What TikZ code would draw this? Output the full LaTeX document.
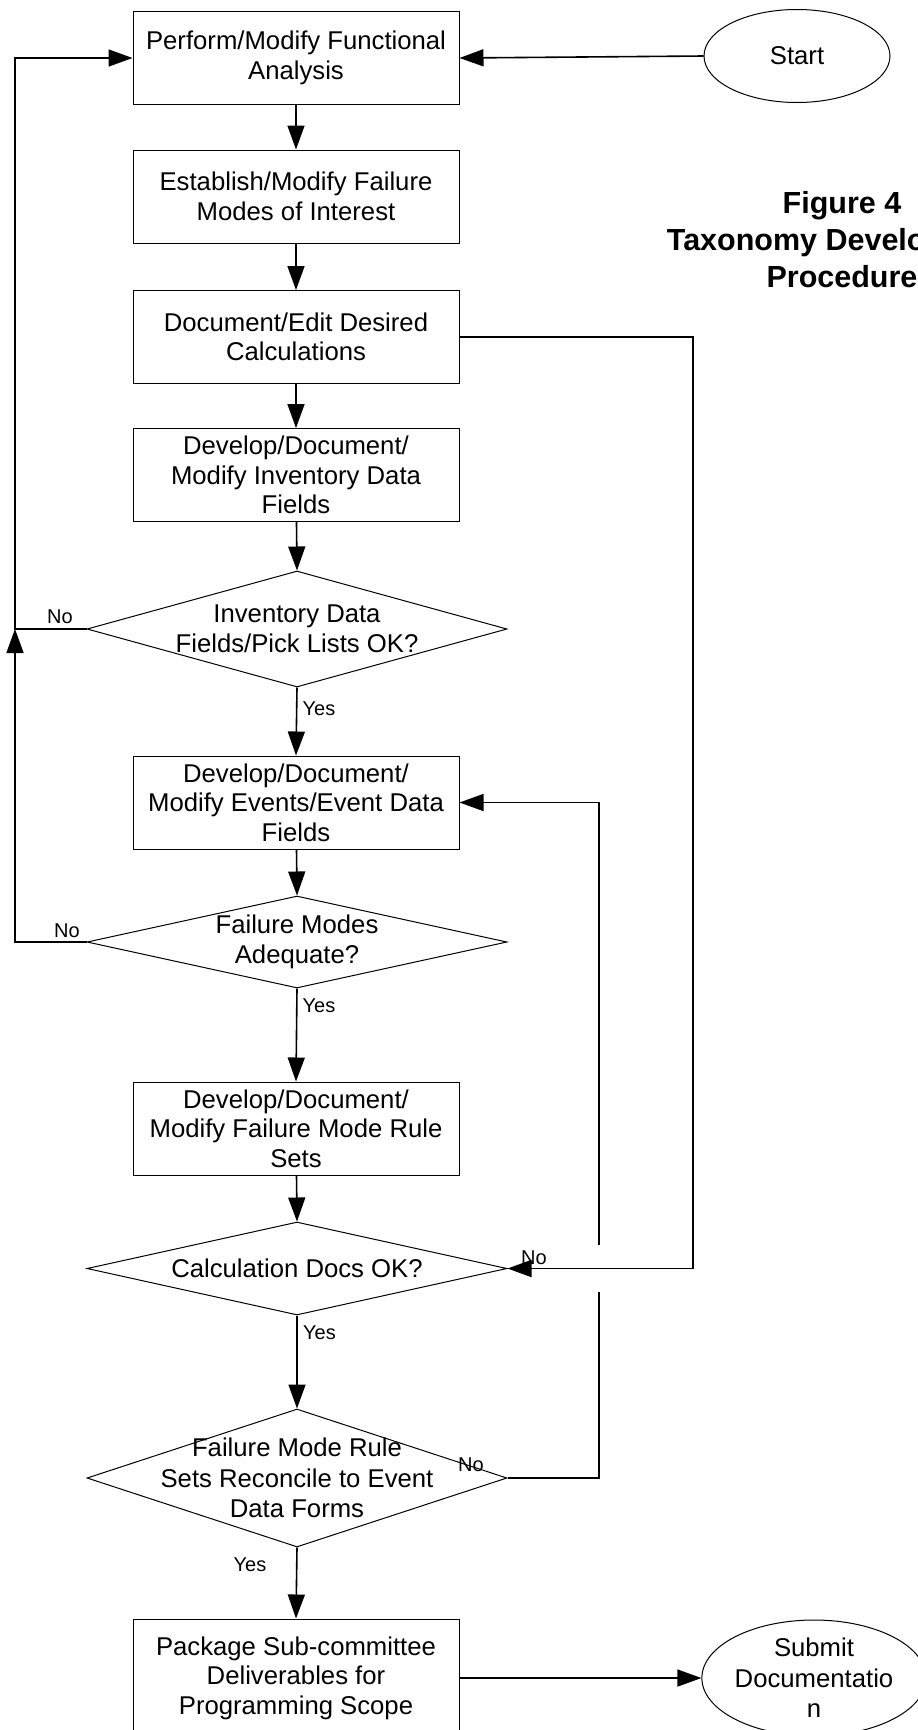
\documentclass[tikz,border=0pt]{standalone}
\usepackage{fontspec}
\setmainfont{Liberation Sans}
\usetikzlibrary{arrows.meta,shapes.geometric}
\tikzset{
  boxnode/.style={draw, line width=1pt, rectangle, minimum width=326pt, minimum height=93pt, inner sep=0pt, align=center, font=\fontsize{25.7}{29.5}\selectfont},
  decnode/.style={draw, line width=1pt, diamond, minimum width=420pt, inner sep=0pt},
  dectext/.style={align=center, font=\fontsize{25.7}{30.5}\selectfont},
  termnode/.style={draw, line width=1pt, ellipse, inner sep=0pt, align=center, font=\fontsize{25.7}{30.5}\selectfont},
  conn/.style={line width=1.6pt},
  arr/.style={conn, -{Triangle[length=24pt,width=17pt]}},
  lbl/.style={font=\fontsize{20}{24}\selectfont, inner sep=0pt},
  titletext/.style={align=center, font=\fontsize{30.5}{37}\selectfont\bfseries}
}
\begin{document}
\begin{tikzpicture}[x=1pt,y=-1pt]
\useasboundingbox (0,0) rectangle (918,1730);
\clip (0,0) rectangle (918,1730);
\fill[white] (0,0) rectangle (918,1730);

% process boxes
\node[boxnode] (b1) at (296,58) {Perform/Modify Functional\\Analysis};
\node[boxnode] (b2) at (296,196.5) {Establish/Modify Failure\\Modes of Interest};
\node[boxnode] (b3) at (296,337) {Document/Edit Desired\\Calculations};
\node[boxnode] (b4) at (296,475) {Develop/Document/\\Modify Inventory Data\\Fields};
\node[boxnode] (b5) at (296,802.5) {Develop/Document/\\Modify Events/Event Data\\Fields};
\node[boxnode] (b6) at (296,1128.5) {Develop/Document/\\Modify Failure Mode Rule\\Sets};
\node[boxnode, minimum height=118pt] (b7) at (296,1678) {Package Sub-committee\\Deliverables for\\Programming Scope};

% decisions
\node[decnode, minimum height=116pt, label={[dectext]center:Inventory Data\\Fields/Pick Lists OK?}] (d1) at (297,629) {};
\node[decnode, minimum height=92pt, label={[dectext]center:Failure Modes\\Adequate?}] (d2) at (297,942) {};
\node[decnode, minimum height=93pt, label={[dectext]center:Calculation Docs OK?}] (d3) at (297,1268.5) {};
\node[decnode, minimum height=138pt, label={[dectext]center:Failure Mode Rule\\Sets Reconcile to Event\\Data Forms}] (d4) at (297,1478) {};

% terminals
\node[termnode, minimum width=186pt, minimum height=93pt] (start) at (797,56) {Start};
\node[termnode, minimum width=220pt, minimum height=116pt] (submit) at (814,1678) {Submit\\Documentatio\\n};

% title
\node[titletext] (title) at (842,240) {Figure 4\\Taxonomy Development\\Procedure};

% helper coordinates
\coordinate (L1) at (15,629);
\coordinate (R1) at (693,1268.5);
\coordinate (G1) at (599,1292);
\coordinate (G2) at (599,1245);

% main flow
\draw[arr] (start.west) -- (b1.east);
\draw[arr] (b1) -- (b2);
\draw[arr] (b2) -- (b3);
\draw[arr] (b3) -- (b4);
\draw[arr] (b4) -- (d1.north);
\draw[arr] (d1.south) -- (b5.north);
\draw[arr] (b5) -- (d2.north);
\draw[arr] (d2.south) -- (b6.north);
\draw[arr] (b6) -- (d3.north);
\draw[arr] (d3.south) -- (d4.north);
\draw[arr] (d4.south) -- (b7.north);
\draw[arr] (b7.east) -- (submit.west);

% left loops
\draw[arr] (d1.west) -- (L1) |- (b1.west);
\draw[arr] (d2.west) -| (L1);

% right loops
\draw[arr] (b3.east) -| (R1) -- (d3.east);
\draw[conn] (d4.east) -| (G1);
\draw[arr] (G2) |- (b5.east);

% labels
\node[lbl] (no1) at (60,617) {No};
\node[lbl] (yes1) at (319,709) {Yes};
\node[lbl] (no2) at (67,931) {No};
\node[lbl] (yes2) at (319,1006) {Yes};
\node[lbl] (no3) at (534,1258) {No};
\node[lbl] (yes3) at (319.5,1333) {Yes};
\node[lbl] (no4) at (471,1465) {No};
\node[lbl] (yes4) at (250,1565) {Yes};
\end{tikzpicture}
\end{document}
